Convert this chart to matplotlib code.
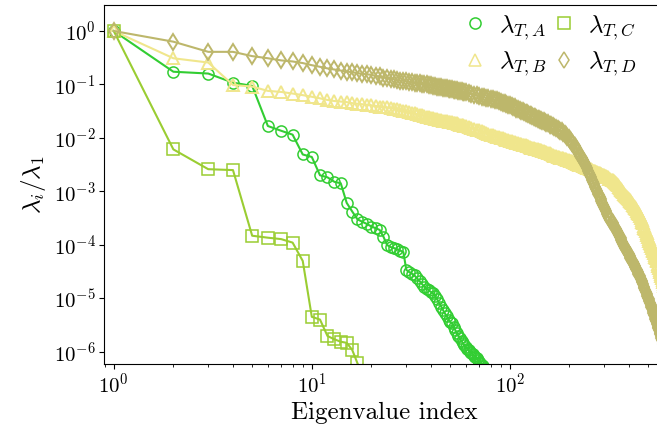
import numpy as np
import matplotlib
matplotlib.use('agg')
import matplotlib.pyplot as plt
from matplotlib.lines import Line2D
from matplotlib.ticker import NullLocator, FixedLocator

plt.rcParams['font.family'] = 'serif'
plt.rcParams['font.serif'] = ['cmr10']
plt.rcParams['mathtext.fontset'] = 'cm'
plt.rcParams['axes.formatter.use_mathtext'] = True

# eigenvalue spectra, normalised by the first eigenvalue
idx_a = np.arange(1, 76)
vals_a = [1.0, 0.173, 0.16, 0.108, 0.094, 0.0167, 0.0136, 0.0115, 0.0049, 0.0044,
          0.0020, 0.00183, 0.00151, 0.00142, 6.1e-4, 4.2e-4, 3.0e-4, 2.7e-4, 2.45e-4, 2.2e-4,
          2.05e-4, 1.9e-4, 1.42e-4, 9.9e-5, 9.1e-5, 8.7e-5, 8.2e-5, 7.8e-5, 7.3e-5, 3.4e-5,
          3.1e-5, 2.9e-5, 2.67e-5, 2.36e-5, 2.1e-5, 1.85e-5, 1.64e-5, 1.52e-5, 1.40e-5, 1.31e-5,
          1.24e-5, 1.10e-5, 9.5e-6, 8.05e-6, 7.0e-6, 6.0e-6, 5.2e-6, 4.65e-6, 4.0e-6, 3.6e-6,
          3.4e-6, 2.9e-6, 2.55e-6, 2.2e-6, 1.97e-6, 1.77e-6, 1.58e-6, 1.44e-6, 1.31e-6, 1.22e-6,
          1.15e-6, 1.08e-6, 1.0e-6, 9.5e-7, 8.9e-7, 8.4e-7, 7.96e-7, 7.5e-7, 7.0e-7, 6.56e-7,
          6.15e-7, 5.7e-7, 5.4e-7, 5.0e-7, 4.6e-7]

idx_c = np.arange(1, 20)
vals_c = [1.0, 0.0061, 0.0026, 0.0025, 1.48e-4, 1.36e-4, 1.28e-4, 1.1e-4, 5.0e-5, 4.5e-6,
          4.0e-6, 1.97e-6, 1.71e-6, 1.54e-6, 1.47e-6, 1.08e-6, 6.1e-7, 3.5e-7, 2.5e-7]

# B and D: read at a thinned set of indices (markers merge into a band),
# values given as powers of ten
idx_bd = np.r_[1:61, 62:151:2, 153:202:3, 203:300:3, 302:603:4]
exp_b = [0, -0.51, -0.59, -1.01, -1.04, -1.12, -1.14, -1.17, -1.20, -1.23,
         -1.26, -1.29, -1.31, -1.32, -1.33, -1.35, -1.36, -1.37, -1.38, -1.39,
         -1.40, -1.42, -1.43, -1.43, -1.44, -1.45, -1.46, -1.48, -1.49, -1.50,
         -1.52, -1.53, -1.54, -1.56, -1.57, -1.58, -1.59, -1.60, -1.61, -1.62,
         -1.63, -1.64, -1.65, -1.66, -1.67, -1.68, -1.68, -1.69, -1.70, -1.71,
         -1.71, -1.72, -1.73, -1.73, -1.74, -1.75, -1.75, -1.76, -1.77, -1.78,
         -1.80, -1.81, -1.83, -1.85, -1.86, -1.88, -1.89, -1.91, -1.92, -1.94,
         -1.95, -1.96, -1.98, -1.99, -2.00, -2.01, -2.02, -2.03, -2.04, -2.05,
         -2.06, -2.07, -2.08, -2.09, -2.10, -2.11, -2.12, -2.13, -2.14, -2.14,
         -2.15, -2.16, -2.17, -2.18, -2.18, -2.19, -2.20, -2.20, -2.21, -2.22,
         -2.23, -2.23, -2.24, -2.25, -2.26,
         -2.27, -2.28, -2.29, -2.31, -2.32, -2.33, -2.34, -2.35, -2.36, -2.37,
         -2.38, -2.38, -2.39, -2.40, -2.41, -2.42, -2.43,
         -2.43, -2.44, -2.45, -2.46, -2.47, -2.48, -2.49, -2.50, -2.51, -2.51,
         -2.52, -2.53, -2.54, -2.55, -2.56, -2.56, -2.57, -2.58, -2.59, -2.60,
         -2.61, -2.61, -2.62, -2.63, -2.64, -2.65, -2.66, -2.66, -2.67, -2.68,
         -2.69, -2.70, -2.70,
         -2.71, -2.72, -2.73, -2.74, -2.76, -2.77, -2.78, -2.79, -2.81, -2.83,
         -2.85, -2.87, -2.89, -2.92, -2.94, -2.96, -2.98, -3.00, -3.02, -3.04,
         -3.06, -3.08, -3.10, -3.12, -3.14, -3.16, -3.18, -3.20, -3.22, -3.25,
         -3.27, -3.29, -3.31, -3.33, -3.36, -3.38, -3.41, -3.43, -3.46, -3.49,
         -3.53, -3.57, -3.60, -3.64, -3.68, -3.71, -3.75, -3.78, -3.82, -3.86,
         -3.89, -3.92, -3.96, -3.99, -4.03, -4.06, -4.09, -4.12, -4.16, -4.19,
         -4.22, -4.25, -4.28, -4.31, -4.35, -4.39, -4.43, -4.47, -4.51, -4.55,
         -4.58, -4.62, -4.66, -4.70, -4.73, -4.77]
exp_d = [0, -0.20, -0.39, -0.39, -0.47, -0.51, -0.55, -0.57, -0.60, -0.64,
         -0.67, -0.70, -0.72, -0.74, -0.76, -0.77, -0.79, -0.80, -0.81, -0.82,
         -0.84, -0.85, -0.87, -0.88, -0.89, -0.90, -0.92, -0.93, -0.93, -0.94,
         -0.95, -0.96, -0.97, -0.97, -0.98, -0.99, -0.99, -1.00, -1.01, -1.01,
         -1.02, -1.03, -1.04, -1.05, -1.05, -1.06, -1.07, -1.07, -1.08, -1.09,
         -1.09, -1.10, -1.11, -1.11, -1.12, -1.12, -1.13, -1.14, -1.14, -1.15,
         -1.16, -1.18, -1.19, -1.20, -1.21, -1.23, -1.24, -1.25, -1.26, -1.27,
         -1.28, -1.29, -1.30, -1.31, -1.33, -1.34, -1.35, -1.37, -1.38, -1.39,
         -1.40, -1.42, -1.43, -1.45, -1.46, -1.47, -1.49, -1.50, -1.51, -1.53,
         -1.54, -1.55, -1.57, -1.58, -1.59, -1.60, -1.61, -1.63, -1.64, -1.65,
         -1.66, -1.67, -1.68, -1.69, -1.70,
         -1.72, -1.73, -1.75, -1.76, -1.78, -1.79, -1.81, -1.83, -1.85, -1.87,
         -1.88, -1.90, -1.93, -1.95, -1.98, -2.01, -2.03,
         -2.05, -2.09, -2.12, -2.15, -2.19, -2.22, -2.26, -2.30, -2.34, -2.38,
         -2.41, -2.45, -2.49, -2.53, -2.56, -2.61, -2.66, -2.70, -2.74, -2.79,
         -2.83, -2.87, -2.91, -2.96, -3.00, -3.04, -3.07, -3.11, -3.15, -3.18,
         -3.22, -3.26, -3.29,
         -3.33, -3.37, -3.42, -3.46, -3.50, -3.53, -3.57, -3.60, -3.64, -3.68,
         -3.71, -3.74, -3.78, -3.81, -3.85, -3.88, -3.91, -3.95, -3.98, -4.02,
         -4.05, -4.08, -4.11, -4.15, -4.18, -4.21, -4.24, -4.27, -4.30, -4.33,
         -4.36, -4.39, -4.42, -4.45, -4.48, -4.51, -4.54, -4.57, -4.59, -4.63,
         -4.67, -4.70, -4.74, -4.78, -4.81, -4.85, -4.88, -4.92, -4.95, -4.99,
         -5.02, -5.06, -5.09, -5.13, -5.16, -5.19, -5.23, -5.27, -5.31, -5.34,
         -5.38, -5.42, -5.45, -5.49, -5.53, -5.56, -5.60, -5.64, -5.67, -5.71,
         -5.74, -5.78, -5.81, -5.85, -5.88, -5.92]
vals_b = 10.0 ** np.array(exp_b)
vals_d = 10.0 ** np.array(exp_d)

x_ticks = [1, 10, 100]
y_ticks = [1e-6, 1e-5, 1e-4, 1e-3, 1e-2, 1e-1, 1e0]

series = [
    (idx_a, vals_a, 'limegreen', 'o', 1.1, r'$\lambda_{T,A}$'),
    (idx_bd, vals_b, 'khaki', '^', 1.4, r'$\lambda_{T,B}$'),
    (idx_c, vals_c, 'yellowgreen', 's', 1.1, r'$\lambda_{T,C}$'),
    (idx_bd, vals_d, 'darkkhaki', 'd', 1.4, r'$\lambda_{T,D}$'),
]

fig = plt.figure(figsize=(6.57, 4.32), dpi=100)
ax = fig.add_axes([104 / 657, 68 / 432, 560 / 657, 359.5 / 432])

handles = []
for x, y, col, mk, ew, lab in series:
    ax.plot(x, y, color=col, lw=1.5, marker=mk, ms=8, mfc='none', mec=col, mew=ew)
    handles.append(Line2D([], [], ls='none', marker=mk, ms=8, mfc='none', mec=col, mew=1.1, label=lab))

ax.set_xscale('log')
ax.set_yscale('log')
ax.set_xlim(0.893, 600)
ax.set_ylim(5.9e-7, 3.13)
ax.xaxis.set_major_locator(FixedLocator(x_ticks))
ax.yaxis.set_major_locator(FixedLocator(y_ticks))
ax.yaxis.set_minor_locator(NullLocator())
ax.tick_params(labelsize=15, pad=2.5)

ax.set_xlabel('Eigenvalue index', fontsize=18)
ax.set_ylabel(r'$\lambda_i/\lambda_1$', fontsize=18)

ax.legend(handles=handles, ncol=2, frameon=False, fontsize=18, loc='upper right',
          bbox_to_anchor=(0.96, 0.99), borderaxespad=0, borderpad=0.2,
          handlelength=1.0, handletextpad=0.45, columnspacing=0.2, labelspacing=0.3)

fig.savefig('out.png', dpi=100)
